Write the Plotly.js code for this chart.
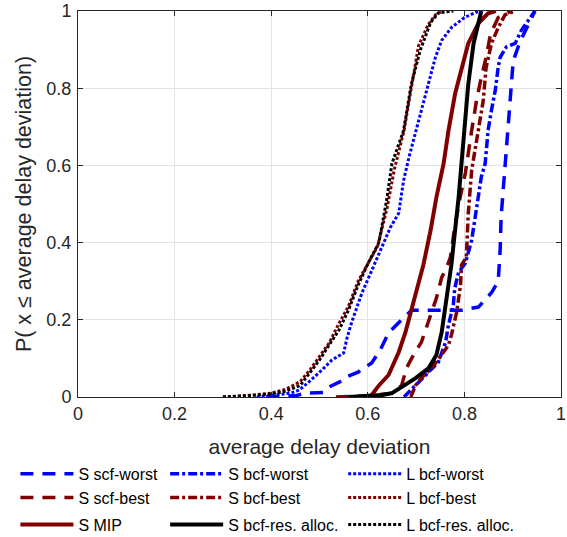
<!DOCTYPE html>
<html>
<head>
<meta charset="utf-8">
<script src="https://cdn.plot.ly/plotly-3.0.1.min.js"></script>
<style>html,body{margin:0;padding:0;background:#fff;}#chart{width:567px;height:537px;}</style>
</head>
<body>
<div id="chart"></div>
<script>
// ---- data ----
const sScfWorstX = [0.39,0.45,0.47,0.51,0.52,0.55,0.555,0.581,0.585,0.608,0.625,0.643,0.67,0.691,0.72,0.76,0.794,0.829,0.856,0.87,0.874,0.876,0.88,0.884,0.89,0.897,0.901,0.915,0.93,0.946];
const sScfWorstY = [0,0.003,0.01,0.012,0.026,0.044,0.052,0.065,0.07,0.088,0.12,0.166,0.2,0.225,0.225,0.225,0.225,0.233,0.27,0.3,0.38,0.466,0.535,0.605,0.69,0.81,0.87,0.92,0.96,1];

const sBcfWorstX = [0.675,0.699,0.72,0.746,0.761,0.767,0.777,0.78,0.788,0.802,0.815,0.825,0.835,0.843,0.849,0.856,0.864,0.87,0.874,0.887,0.905,0.918,0.936,0.946];
const sBcfWorstY = [0,0.03,0.057,0.09,0.142,0.186,0.238,0.282,0.323,0.347,0.406,0.49,0.57,0.605,0.69,0.743,0.795,0.855,0.88,0.907,0.916,0.95,0.983,1];

const lBcfWorstX = [0.37,0.40,0.44,0.458,0.478,0.505,0.526,0.55,0.557,0.567,0.588,0.602,0.629,0.647,0.664,0.674,0.685,0.70,0.722,0.74,0.753,0.773,0.80,0.825,0.835];
const lBcfWorstY = [0,0.004,0.01,0.018,0.039,0.07,0.096,0.114,0.153,0.195,0.27,0.31,0.39,0.44,0.476,0.56,0.62,0.69,0.80,0.88,0.924,0.957,0.983,0.997,1];

const sScfBestX = [0.534,0.60,0.65,0.67,0.68,0.695,0.711,0.726,0.742,0.753,0.763,0.771,0.78,0.79,0.802,0.815,0.825,0.835,0.845,0.854,0.87,0.897];
const sScfBestY = [0,0.003,0.01,0.03,0.075,0.11,0.142,0.194,0.256,0.31,0.334,0.362,0.44,0.51,0.58,0.69,0.768,0.828,0.88,0.94,0.983,1];

const sBcfBestX = [0.689,0.699,0.711,0.732,0.753,0.767,0.773,0.784,0.792,0.794,0.804,0.808,0.815,0.829,0.839,0.845,0.856,0.87,0.884,0.905];
const sBcfBestY = [0,0.03,0.049,0.075,0.109,0.135,0.16,0.22,0.29,0.342,0.362,0.476,0.587,0.69,0.768,0.854,0.916,0.957,0.99,1];

const lBcfBestX = [0.30,0.35,0.40,0.43,0.46,0.48,0.50,0.52,0.54,0.56,0.58,0.60,0.62,0.64,0.655,0.675,0.69,0.705,0.725,0.74,0.755];
const lBcfBestY = [0,0.004,0.01,0.02,0.04,0.07,0.105,0.14,0.19,0.235,0.30,0.345,0.39,0.49,0.59,0.69,0.80,0.91,0.965,0.99,1];

const sMipX = [0.605,0.623,0.643,0.664,0.678,0.691,0.705,0.715,0.73,0.742,0.757,0.767,0.781,0.794,0.808,0.829,0.849,0.865];
const sMipY = [0,0.03,0.057,0.116,0.168,0.23,0.29,0.342,0.432,0.517,0.605,0.69,0.787,0.854,0.916,0.968,0.994,1];

const sBcfResX = [0.56,0.60,0.63,0.65,0.67,0.699,0.726,0.742,0.753,0.761,0.767,0.773,0.781,0.788,0.794,0.80,0.808,0.819,0.829,0.835];
const sBcfResY = [0,0.002,0.005,0.01,0.026,0.049,0.075,0.109,0.168,0.23,0.29,0.342,0.432,0.517,0.605,0.69,0.81,0.916,0.976,1];

const lBcfResX = [0.30,0.35,0.40,0.43,0.46,0.48,0.50,0.52,0.54,0.56,0.58,0.60,0.623,0.639,0.65,0.674,0.69,0.709,0.73,0.746,0.777];
const lBcfResY = [0,0.003,0.008,0.015,0.03,0.062,0.096,0.135,0.173,0.225,0.29,0.345,0.40,0.51,0.605,0.69,0.81,0.90,0.97,0.995,1];

const xTicks = [0,0.2,0.4,0.6,0.8,1];
const yTicks = [0,0.2,0.4,0.6,0.8,1];

const BLUE = '#0000ff', RED = '#800000', BLACK = '#000000';
const DASH = '13px,9px', DASHDOT = '9px,3px,3px,3px', DOT = '3px,2px';
const FONT = 'Arial, Liberation Sans, sans-serif';

function tr(name, x, y, color, dash, width, legend, group) {
  return {type:'scatter', mode:'lines', name:name, x:x, y:y,
    line:{color:color, dash:dash, width:width}, legend:legend, legendgroup:group};
}

const traces = [
  tr('S scf-worst', sScfWorstX, sScfWorstY, BLUE, DASH, 3.5, 'legend', 'a'),
  tr('S scf-best', sScfBestX, sScfBestY, RED, DASH, 3.5, 'legend', 'a'),
  tr('S MIP', sMipX, sMipY, RED, 'solid', 4, 'legend', 'b'),
  tr('S bcf-worst', sBcfWorstX, sBcfWorstY, BLUE, DASHDOT, 3.5, 'legend2', 'c'),
  tr('S bcf-best', sBcfBestX, sBcfBestY, RED, DASHDOT, 3.5, 'legend2', 'c'),
  tr('S bcf-res. alloc.', sBcfResX, sBcfResY, BLACK, 'solid', 4, 'legend2', 'd'),
  tr('L bcf-worst', lBcfWorstX, lBcfWorstY, BLUE, DOT, 3, 'legend3', 'e'),
  tr('L bcf-best', lBcfBestX, lBcfBestY, RED, DOT, 3, 'legend3', 'e'),
  tr('L bcf-res. alloc.', lBcfResX, lBcfResY, BLACK, DOT, 3, 'legend3', 'f')
];

const legFont = {family:FONT, size:16, color:'#000'};
function leg(x) {
  return {x:x, y:-0.1552, xanchor:'left', yanchor:'top', orientation:'v',
    font:legFont, bgcolor:'rgba(0,0,0,0)', borderwidth:0, tracegroupgap:3,
    itemwidth:53, traceorder:'grouped'};
}

const axisCommon = {
  range:[0,1], tickvals:xTicks, ticktext:xTicks.map(String),
  ticks:'inside', ticklen:5, tickwidth:1, tickcolor:'#262626',
  showline:true, linecolor:'#262626', linewidth:1, mirror:'ticks',
  showgrid:true, gridcolor:'#e3e3e3', gridwidth:1, zeroline:false,
  automargin:false,
  tickfont:{family:FONT, size:18, color:'#262626'},
  fixedrange:true
};

const layout = {
  width:567, height:537,
  margin:{l:78, r:6, t:11, b:140, autoexpand:false},
  paper_bgcolor:'#fff', plot_bgcolor:'#fff',
  xaxis: Object.assign({}, axisCommon, {
    title:{text:'average delay deviation', standoff:16,
      font:{family:FONT, size:21, color:'#262626'}}
  }),
  yaxis: Object.assign({}, axisCommon, {
    tickvals:yTicks, ticktext:yTicks.map(String), ticklabelstandoff:2,
    title:{text:'P( x \u2264 average delay deviation)', standoff:8,
      font:{family:FONT, size:21.5, color:'#262626'}}
  }),
  showlegend:true,
  legend: leg(-0.1296),
  legend2: leg(0.1804),
  legend3: leg(0.549)
};

Plotly.newPlot('chart', traces, layout, {staticPlot:true, displayModeBar:false});
</script>
</body>
</html>
